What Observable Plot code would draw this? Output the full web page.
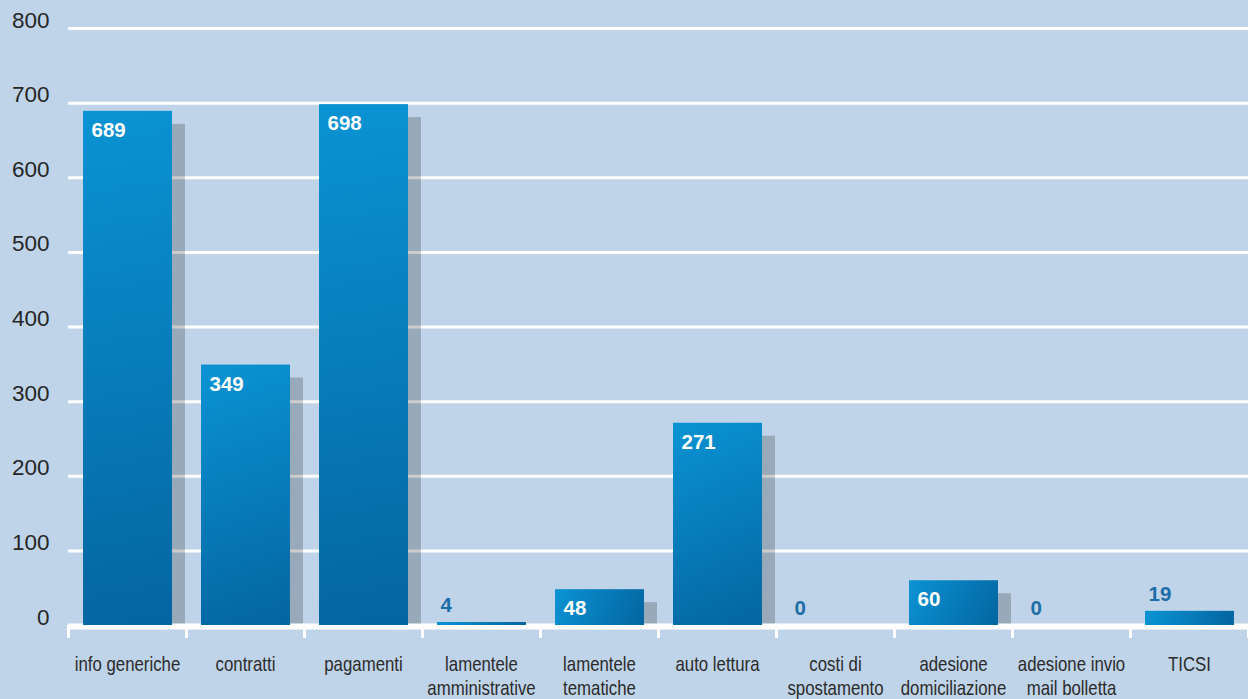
<!DOCTYPE html>
<html><head><meta charset="utf-8">
<script src="https://cdn.jsdelivr.net/npm/d3@7"></script>
<script src="https://cdn.jsdelivr.net/npm/@observablehq/plot@0.6"></script>
<style>
html,body{margin:0;padding:0;background:#bfd4e8;overflow:hidden;}
</style></head><body><div id="chart"></div>
<script>
const categories = ["info generiche","contratti","pagamenti","lamentele amministrative","lamentele tematiche","auto lettura","costi di spostamento","adesione domiciliazione","adesione invio mail bolletta","TICSI"];
const tickLabels = ["info generiche","contratti","pagamenti","lamentele\namministrative","lamentele\ntematiche","auto lettura","costi di\nspostamento","adesione\ndomiciliazione","adesione invio\nmail bolletta","TICSI"];
const values = [689,349,698,4,48,271,0,60,0,19];
const yTicks = [0,100,200,300,400,500,600,700,800];

const data = categories.map((c,i)=>({category:c, value:values[i]}));
const inside = data.filter(d=>d.value>=40);
const outside = data.filter(d=>d.value<40);
const labelOf = new Map(categories.map((c,i)=>[c,tickLabels[i]]));
const sans = "'Liberation Sans', Arial, sans-serif";

const chart = Plot.plot({
  width:1248, height:699,
  marginLeft:68, marginRight:0, marginTop:28, marginBottom:74,
  style:{background:"#bfd4e8", fontFamily:sans, overflow:"hidden"},
  x:{domain:categories, padding:0, axis:null},
  y:{domain:[0,800], axis:null},
  marks:[
    Plot.ruleY(yTicks.filter(t=>t>0), {stroke:"white", strokeWidth:3}),
    Plot.barY(data, {x:"category", y:"value", fill:"black", fillOpacity:0.2, insetLeft:15, insetRight:14, insetTop:13, dx:13}),
    Plot.ruleY([0], {stroke:"white", strokeWidth:6, dy:1}),
    Plot.barY(data, {x:"category", y:"value", fill:"#0a7fbd", insetLeft:15, insetRight:14}),
    Plot.text(inside, {x:"category", y:"value", text:d=>String(d.value), fill:"white", fontWeight:"bold", fontSize:20.5, fontFamily:sans, textAnchor:"start", dx:-36, dy:19}),
    Plot.text(outside, {x:"category", y:"value", text:d=>String(d.value), fill:"#1d6da6", fontWeight:"bold", fontSize:20.5, fontFamily:sans, textAnchor:"start", dx:-41, dy:-17}),
    Plot.axisY(yTicks, {tickSize:0, tickPadding:19, fontSize:22.5, fontFamily:sans, color:"#262626", lineAnchor:"bottom", dy:-1, label:null}),
    Plot.axisX({tickSize:13, stroke:"white", strokeWidth:3, dx:-59, fill:"none", label:null}),
    Plot.axisX(["TICSI"], {tickSize:13, stroke:"white", strokeWidth:3, dx:59, fill:"none", label:null}),
    Plot.axisX({tickSize:0, tickPadding:28, tickFormat:c=>labelOf.get(c), fontSize:20.5, fontFamily:sans, color:"#2b2b2b", lineHeight:1.17, label:null})
  ]
});

// per-bar gradient (top-left light -> bottom-right dark, in user space)
const defs = d3.select(chart).insert("defs", ":first-child");
const barGroups = chart.querySelectorAll('g[aria-label="bar"]');
d3.select(barGroups[1]).selectAll("rect").each(function(_, i) {
  const r = d3.select(this);
  const x = +r.attr("x"), y = +r.attr("y"), w = +r.attr("width"), h = +r.attr("height");
  const id = "barGrad" + i;
  const g = defs.append("linearGradient").attr("id", id).attr("gradientUnits", "userSpaceOnUse")
    .attr("x1", x).attr("y1", y).attr("x2", x + w).attr("y2", y + h);
  g.append("stop").attr("offset", "0%").attr("stop-color", "#0a93d3");
  g.append("stop").attr("offset", "100%").attr("stop-color", "#0465a1");
  r.attr("fill", `url(#${id})`);
});

// condense x labels horizontally (narrow face)
const xl = chart.querySelectorAll('g[aria-label="x-axis tick label"]');
const lastXl = xl[xl.length-1];
if (lastXl) lastXl.querySelectorAll("text").forEach(t => {
  const tr = t.getAttribute("transform") || "";
  t.setAttribute("transform", tr + " scale(0.82,1)");
});

document.getElementById("chart").appendChild(chart);
</script>
</body></html>
